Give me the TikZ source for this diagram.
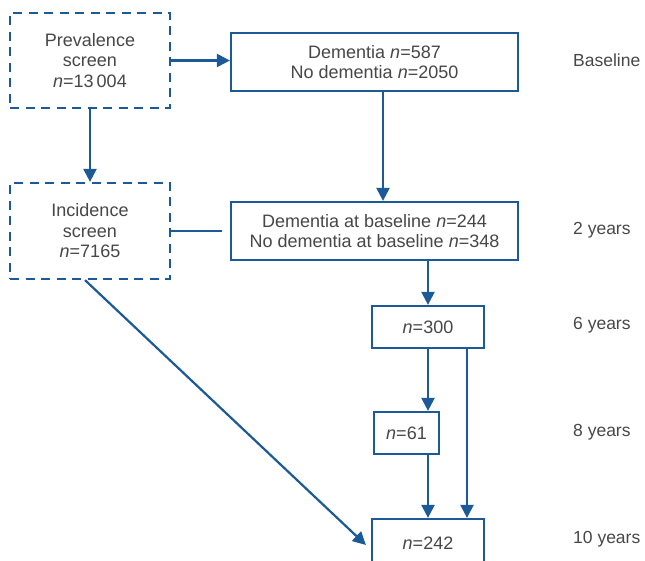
\documentclass[tikz,border=0pt]{standalone}
\usepackage{fontspec}
\setmainfont{Liberation Sans}
\usepackage{tikz}
\usetikzlibrary{arrows.meta,positioning,calc}
\definecolor{fcblue} {HTML}{1B5A96}
\definecolor{fctext} {HTML}{474747}
\tikzset{
  fcbox/.style={draw=fcblue, fill=white, line width=2.2pt, inner sep=0pt,
                align=center, text=fctext, font=\fontsize{18}{20.5}\selectfont},
  fcscreen/.style={fcbox, dash pattern=on 9pt off 6.5pt},
  fcarrow/.style={-{Triangle[length=13pt,width=13pt]}, draw=fcblue, line width=2.2pt},
  fcline/.style={draw=fcblue, line width=2.2pt},
  fclabel/.style={anchor=west, inner sep=0pt, text=fctext, font=\fontsize{17.5}{20.5}\selectfont},
}

\begin{document}
\begin{tikzpicture}[x=1pt,y=-1pt]
  \useasboundingbox (0,0) rectangle (645,561);
  \clip (0,0) rectangle (645,561);
  % screens
  \node[fcscreen,minimum width=160pt,minimum height=95pt] (prev) at (90,60.5)
    {Prevalence\\screen\\\textit{n}=13\,004};
  \node[fcscreen,minimum width=160pt,minimum height=96pt] (inc) at (90,231)
    {Incidence\\screen\\\textit{n}=7165};
  % follow-up waves
  \node[fcbox,minimum width=287pt,minimum height=58pt] (dem) at (374.5,62)
    {Dementia \textit{n}=587\\No dementia \textit{n}=2050};
  \node[fcbox,minimum width=287pt,minimum height=58pt] (base) at (374.5,231)
    {Dementia at baseline \textit{n}=244\\No dementia at baseline \textit{n}=348};
  \node[fcbox,minimum width=112pt,minimum height=42pt] (n300) at (428,327) {\textit{n}=300};
  \node[fcbox,minimum width=65pt,minimum height=42pt] (n61) at (406.5,433) {\textit{n}=61};
  \node[fcbox,minimum width=112pt,minimum height=48pt] (n242) at (428,543) {\textit{n}=242};
  % time labels
  \node[fclabel] (lbase) at (573,60)  {Baseline};
  \node[fclabel] (l2)    at (573,230) {2 years};
  \node[fclabel] (l6)    at (573,325) {6 years};
  \node[fclabel] (l8)    at (573,432) {8 years};
  \node[fclabel] (l10)   at (573,539) {10 years};
  % connectors
  \coordinate (incend) at ($(base.west)+(-8,0)$);
  \draw[fcarrow] (prev.east) -- (prev.east -| dem.west);
  \draw[fcarrow] (prev) -- (inc);
  \draw[fcline]  (inc.east) -- (inc.east -| incend);
  \draw[fcarrow] ([xshift=8.5pt]dem.south) -- ([xshift=8.5pt]base.north);
  \draw[fcarrow] (base.south -| n300.north) -- (n300.north);
  \draw[fcarrow] (n300.south) -- (n300.south |- n61.north);
  \draw[fcarrow] ([xshift=39pt]n300.south) -- ([xshift=39pt]n242.north);
  \draw[fcarrow] (n61.south -| n242.north) -- (n242.north);
  \draw[fcarrow] ([xshift=-5pt]inc.south) -- ([xshift=-5pt,yshift=-2pt]n242.west);
\end{tikzpicture}
\end{document}
